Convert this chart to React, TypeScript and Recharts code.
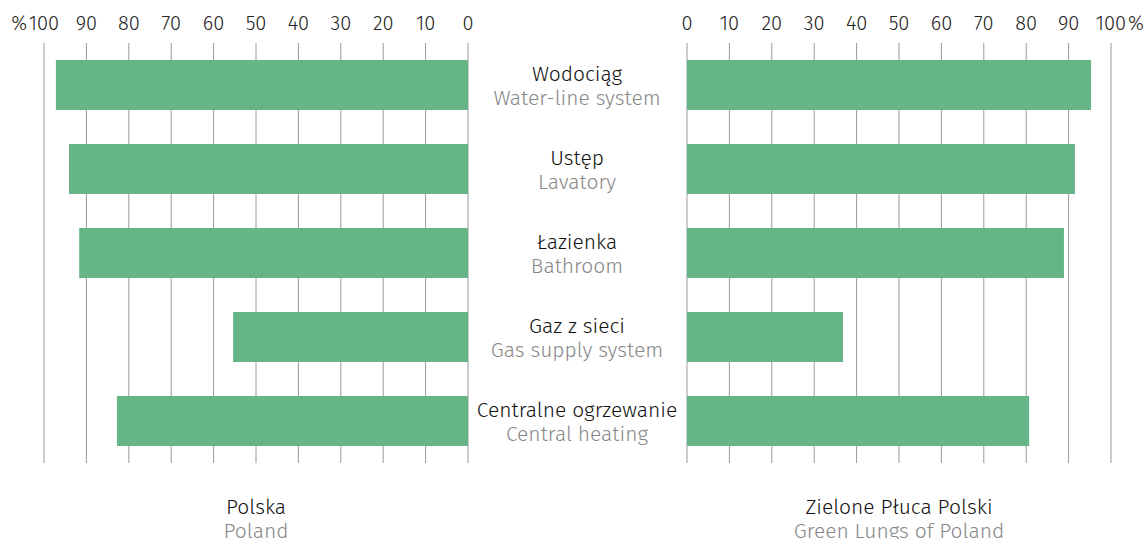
import React from 'react';
import { BarChart, Bar, XAxis, YAxis, CartesianGrid } from 'recharts';

const categoriesPl = ['Wodociąg', 'Ustęp', 'Łazienka', 'Gaz z sieci', 'Centralne ogrzewanie'];
const categoriesEn = ['Water-line system', 'Lavatory', 'Bathroom', 'Gas supply system', 'Central heating'];
const polandValues = [97.2, 94.1, 91.7, 55.4, 82.8];
const greenLungsValues = [95.3, 91.5, 88.9, 36.8, 80.7];
const percentTicks = [0, 10, 20, 30, 40, 50, 60, 70, 80, 90, 100];

const FONT = '"Fira Sans", Roboto, sans-serif';
const barColor = '#66b587';
const gridColor = '#9a9a9a';

const data = categoriesPl.map((name, i) => ({
  name,
  en: categoriesEn[i],
  poland: polandValues[i],
  greenLungs: greenLungsValues[i],
}));

const PercentTick = ({ x, y, payload, side }: any) => {
  const isMax = payload.value === 100;
  const style = { fontSize: 20, fontFamily: FONT, fontWeight: 300, fill: '#222' };
  return (
    <g>
      <text x={x} y={y} textAnchor="middle" {...style}>
        {payload.value}
      </text>
      {isMax && side === 'left' && (
        <text x={x - 17} y={y} textAnchor="end" {...style}>%</text>
      )}
      {isMax && side === 'right' && (
        <text x={x + 17} y={y} textAnchor="start" {...style}>%</text>
      )}
    </g>
  );
};

const CategoryTick = ({ y, payload, index }: any) => (
  <g>
    <text x={107} y={y - 4} textAnchor="middle" fontSize={21} fontWeight={300} fontFamily={FONT} fill="#111">
      {payload.value}
    </text>
    <text x={107} y={y + 20} textAnchor="middle" fontSize={21} fontWeight={300} fontFamily={FONT} fill="#888">
      {categoriesEn[index]}
    </text>
  </g>
);

const footer = (pl: string, en: string, center: number) => (
  <div style={{ position: 'absolute', left: center - 150, top: 495, width: 300, textAlign: 'center', fontFamily: FONT, fontWeight: 300, fontSize: 21, lineHeight: '24px' }}>
    <div style={{ color: '#111' }}>{pl}</div>
    <div style={{ color: '#888' }}>{en}</div>
  </div>
);

export default function App() {
  return (
    <div style={{ position: 'absolute', left: 0, top: 0, width: 1146, height: 539, background: '#fff', overflow: 'hidden' }}>
      <div style={{ position: 'absolute', left: 0, top: 0 }}>
        <BarChart width={490} height={539} data={data} layout="vertical" barSize={50}
          margin={{ top: 13, right: 22, left: 44, bottom: 76 }}>
          <CartesianGrid horizontal={false} stroke={gridColor} />
          <XAxis type="number" orientation="top" domain={[0, 100]} ticks={percentTicks} reversed
            axisLine={false} tickLine={false} tickSize={6} tickMargin={7} height={30} interval={0}
            tick={<PercentTick side="left" />} />
          <YAxis type="category" dataKey="name" hide />
          <Bar dataKey="poland" fill={barColor} isAnimationActive={false} />
        </BarChart>
      </div>
      <div style={{ position: 'absolute', left: 470, top: 0 }}>
        <BarChart width={676} height={539} data={data} layout="vertical" barSize={50}
          margin={{ top: 13, right: 35, left: 0, bottom: 76 }}>
          <CartesianGrid horizontal={false} stroke={gridColor} />
          <XAxis type="number" orientation="top" domain={[0, 100]} ticks={percentTicks}
            axisLine={false} tickLine={false} tickSize={6} tickMargin={7} height={30} interval={0}
            tick={<PercentTick side="right" />} />
          <YAxis type="category" dataKey="name" width={217} axisLine={false} tickLine={false}
            interval={0} tick={<CategoryTick />} />
          <Bar dataKey="greenLungs" fill={barColor} isAnimationActive={false} />
        </BarChart>
      </div>
      {footer('Polska', 'Poland', 256)}
      {footer('Zielone Płuca Polski', 'Green Lungs of Poland', 899)}
    </div>
  );
}
